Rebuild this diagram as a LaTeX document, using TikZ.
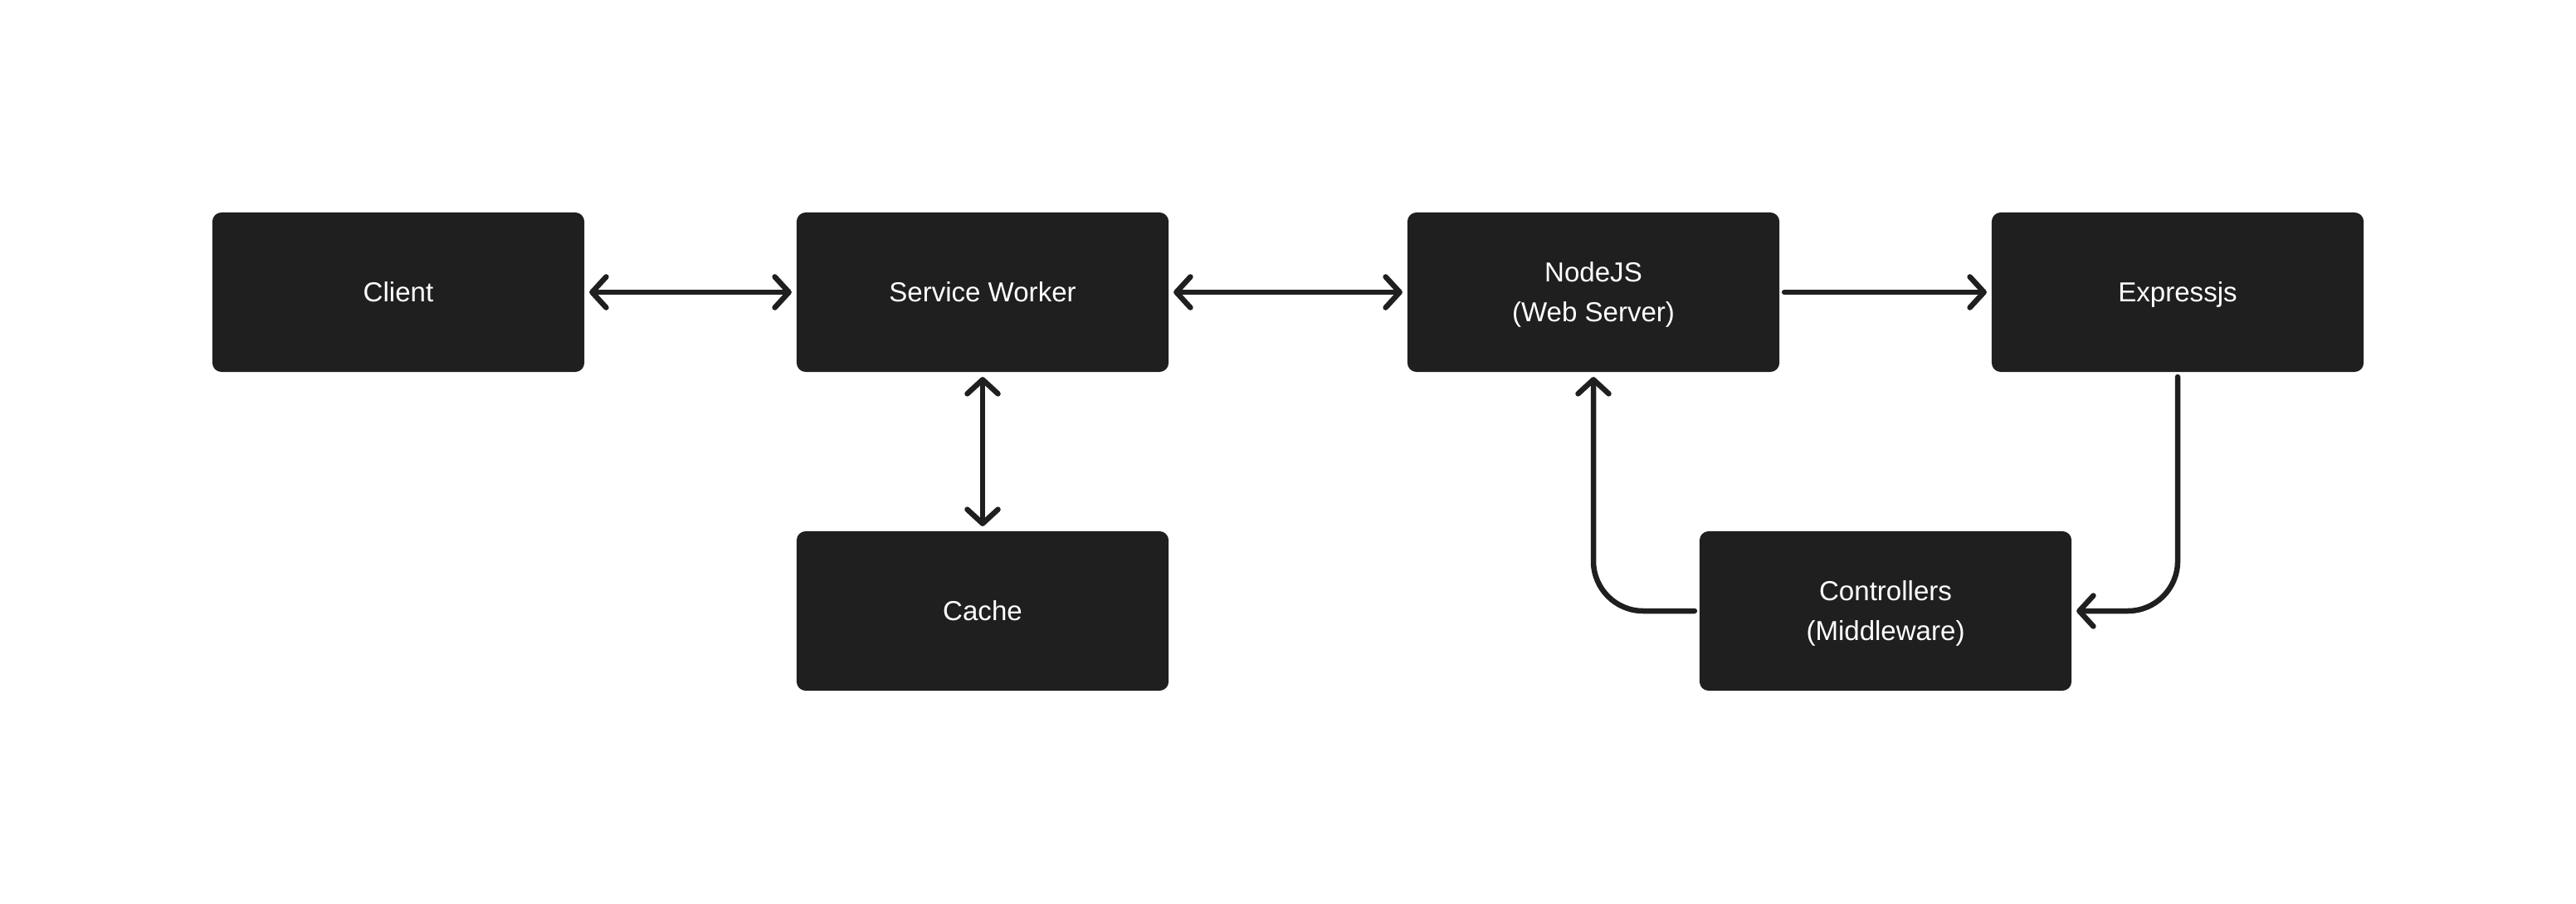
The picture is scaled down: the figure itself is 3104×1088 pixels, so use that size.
\documentclass[tikz,border=0pt]{standalone}
\usepackage{fontspec}
\setmainfont{Liberation Sans}
\usetikzlibrary{arrows.meta}
\definecolor{boxc}{HTML}{1F1F1F}
\begin{document}
\begin{tikzpicture}[x=0.01cm,y=-0.01cm,
  box/.style={rectangle, rounded corners=0.11cm, minimum width=4.48cm, minimum height=1.92cm,
    fill=boxc, text=white, inner sep=0pt, outer sep=0.06cm, align=center,
    font=\fontsize{9.4pt}{13.66pt}\selectfont, text height=0.23cm, text depth=0cm},
  twoline/.style={text height=0.71cm, text depth=0cm},
  conn/.style={draw=boxc, line width=1.85pt, line cap=round, line join=round},
  >={Straight Barb[length=0.17cm, width=0.37cm, round]}]
\useasboundingbox (0,0) rectangle (3104,1088);
\node[box] (client) at (480,352) {Client};
\node[box] (sw) at (1184,352) {Service Worker};
\node[box, twoline] (njs) at (1920,352) {NodeJS\\(Web Server)};
\node[box] (exp) at (2624,352) {Expressjs};
\node[box] (cache) at (1184,736) {Cache};
\node[box, twoline] (ctrl) at (2272,736) {Controllers\\(Middleware)};
\draw[conn, <->] (client) -- (sw);
\draw[conn, <->] (sw) -- (njs);
\draw[conn, ->] (njs) -- (exp);
\draw[conn, <->] (sw) -- (cache);
\draw[conn, ->, rounded corners=0.6cm] (exp.south) |- (ctrl.east);
\draw[conn, ->, rounded corners=0.6cm] (ctrl.west) -| (njs.south);
\end{tikzpicture}
\end{document}
